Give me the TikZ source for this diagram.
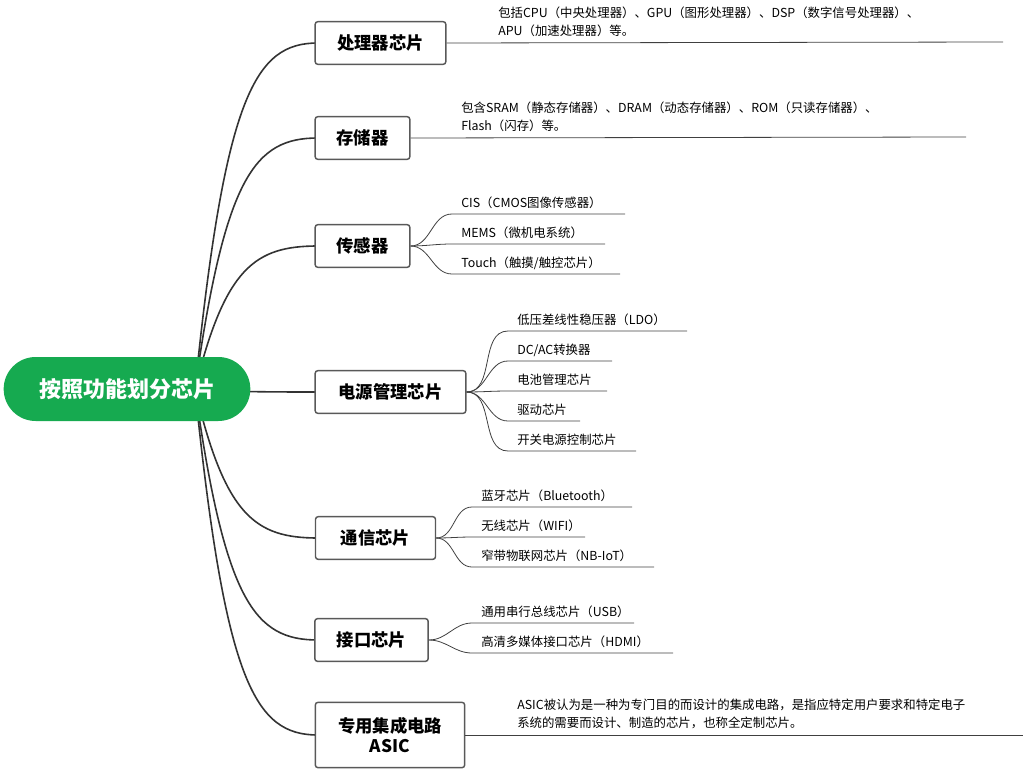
\documentclass[tikz,border=0pt]{standalone}
\usepackage{fontspec}
\setmainfont{Noto Sans CJK SC}
\definecolor{rootg}{RGB}{22,170,80}
\begin{document}
\begin{tikzpicture}[x=0.75pt,y=-0.75pt,
 cat/.style={draw=black!65,line width=1.1pt,rounded corners=2pt,fill=white,inner sep=0pt,font=\fontsize{13}{15}\selectfont\bfseries,align=center},
 leaf/.style={anchor=west,inner sep=0pt,font=\fontsize{9.3}{13.5}\selectfont,align=left},
 br/.style={draw=black!80,line width=1.2pt},
 ln/.style={draw=black!75,line width=0.6pt}]
\useasboundingbox (0,0) rectangle (1023,770);
\coordinate (o) at (195,389);
% main branches
\foreach \n/\y in {a/43,b/138,c/246,d/392,e/538,f/640,g/735}{
  \coordinate (t\n) at (318,\y);
  \draw[br] (o) .. controls (225,{389+0.85*(\y-389)}) and (255,\y) .. (t\n);
}
\node[fill=rootg,rounded corners=24pt,text=white,font=\fontsize{16.5}{18}\selectfont\bfseries,minimum width=185pt,minimum height=48pt] (root) at (127,389) {按照功能划分芯片};
\node[cat,minimum width=98pt,minimum height=32pt] (a) at (380.5,43) {处理器芯片};
\node[cat,minimum width=71pt,minimum height=32pt] (b) at (362.5,138) {存储器};
\node[cat,minimum width=71pt,minimum height=32pt] (c) at (362.5,246) {传感器};
\node[cat,minimum width=113pt,minimum height=32pt] (d) at (390.5,392) {电源管理芯片};
\node[cat,minimum width=90pt,minimum height=32pt] (e) at (375.5,538) {通信芯片};
\node[cat,minimum width=85pt,minimum height=32pt] (f) at (371.5,640) {接口芯片};
\node[cat,minimum width=112pt,minimum height=49pt] (g) at (390,735) {专用集成电路\\ASIC};
% processor
\coordinate (a1) at (1003,42);
\draw[ln] (a.east) -- (a1);
\node[leaf] (at) at (498,22) {包括CPU（中央处理器）、GPU（图形处理器）、DSP（数字信号处理器）、\\APU（加速处理器）等。};
% memory
\coordinate (b1) at (966,137);
\draw[ln] (b.east) -- (b1);
\node[leaf] (bt) at (461,117) {包含SRAM（静态存储器）、DRAM（动态存储器）、ROM（只读存储器）、\\Flash（闪存）等。};
% sensors
\foreach \n/\y/\e/\t in {1/203/625/{CIS（CMOS图像传感器）},2/233/605/{MEMS（微机电系统）},3/263/620/{Touch（触摸/触控芯片）}}{
  \node[leaf] (c\n) at (461,\y) {\t};
  \coordinate (cs\n) at (452,\y+11); \coordinate (ce\n) at (\e,\y+11);
  \draw[ln] (c.east) to[out=0,in=180] (cs\n) -- (ce\n);
}
% power
\foreach \n/\y/\e/\t in {1/320/687/{低压差线性稳压器（LDO）},2/350/612/{DC/AC转换器},3/380/607/{电池管理芯片},4/410/580/{驱动芯片},5/440/636/{开关电源控制芯片}}{
  \node[leaf] (d\n) at (517,\y) {\t};
  \coordinate (ds\n) at (508,\y+11); \coordinate (de\n) at (\e,\y+11);
  \draw[ln] (d.east) to[out=0,in=180] (ds\n) -- (de\n);
}
% comm
\foreach \n/\y/\e/\t in {1/496/632/{蓝牙芯片（Bluetooth）},2/526/585/{无线芯片（WIFI）},3/556/654/{窄带物联网芯片（NB-IoT）}}{
  \node[leaf] (e\n) at (481,\y) {\t};
  \coordinate (es\n) at (472,\y+11); \coordinate (ee\n) at (\e,\y+11);
  \draw[ln] (e.east) to[out=0,in=180] (es\n) -- (ee\n);
}
% interface
\foreach \n/\y/\e/\t in {1/612/634/{通用串行总线芯片（USB）},2/642/673/{高清多媒体接口芯片（HDMI）}}{
  \node[leaf] (f\n) at (481,\y) {\t};
  \coordinate (fs\n) at (472,\y+11); \coordinate (fe\n) at (\e,\y+11);
  \draw[ln] (f.east) to[out=0,in=180] (fs\n) -- (fe\n);
}
% ASIC
\coordinate (g1) at (1023,735);
\draw[ln] (g.east) -- (g1);
\node[leaf] (gt) at (517,714) {ASIC被认为是一种为专门目的而设计的集成电路，是指应特定用户要求和特定电子\\系统的需要而设计、制造的芯片，也称全定制芯片。};
\end{tikzpicture}
\end{document}
